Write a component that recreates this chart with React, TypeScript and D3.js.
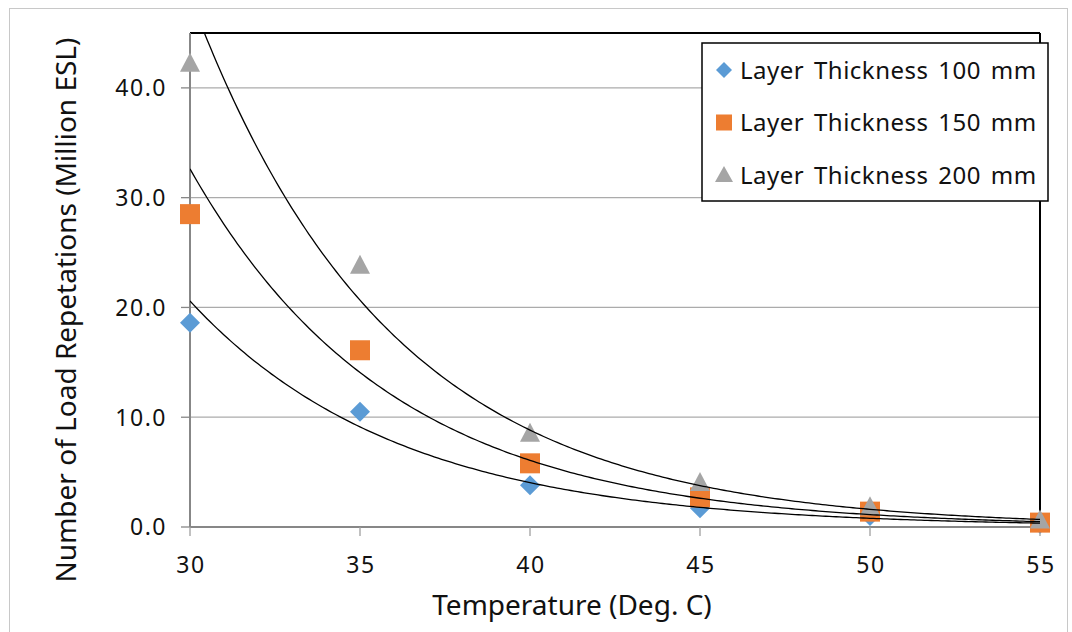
import React from "react";
import * as d3 from "d3";

const temperatures = [30, 35, 40, 45, 50, 55];
const thick100 = [18.6, 10.5, 3.8, 1.7, 1.0, 0.3];
const thick150 = [28.5, 16.1, 5.8, 2.7, 1.4, 0.4];
const thick200 = [42.2, 23.8, 8.5, 4.0, 1.8, 0.6];
const seriesNames = ["Layer Thickness 100 mm", "Layer Thickness 150 mm", "Layer Thickness 200 mm"];
const seriesColors = ["#5B9BD5", "#ED7D31", "#A5A5A5"];
const xTicks = [30, 35, 40, 45, 50, 55];
const yTicks = [0, 10, 20, 30, 40];

const W = 1072, H = 632;
const L = 190, R = 1040, T = 33, B = 527;
const FONT = "'Noto Sans', 'Open Sans', sans-serif";

function expFit(xs: number[], ys: number[]) {
  const n = xs.length;
  const lx = d3.mean(xs)!;
  const ly = d3.mean(ys.map(Math.log))!;
  let sxy = 0, sxx = 0;
  for (let i = 0; i < n; i++) {
    sxy += (xs[i] - lx) * (Math.log(ys[i]) - ly);
    sxx += (xs[i] - lx) ** 2;
  }
  const b = sxy / sxx;
  const a = Math.exp(ly - b * lx);
  return (x: number) => a * Math.exp(b * x);
}

function Marker({ kind, x, y, color }: { kind: number; x: number; y: number; color: string }) {
  if (kind === 0) {
    const s = 10;
    return <path d={`M${x},${y - s}L${x + s},${y}L${x},${y + s}L${x - s},${y}Z`} fill={color} />;
  }
  if (kind === 1) {
    return <rect x={x - 10} y={y - 10} width={20} height={20} fill={color} />;
  }
  return <path d={`M${x},${y - 11}L${x + 10},${y + 8}L${x - 10},${y + 8}Z`} fill={color} />;
}

function LegendMarker({ kind, x, y, color }: { kind: number; x: number; y: number; color: string }) {
  if (kind === 0) {
    const s = 8;
    return <path d={`M${x},${y - s}L${x + s},${y}L${x},${y + s}L${x - s},${y}Z`} fill={color} />;
  }
  if (kind === 1) return <rect x={x - 8} y={y - 8} width={16} height={16} fill={color} />;
  return <path d={`M${x},${y - 9}L${x + 9},${y + 7}L${x - 9},${y + 7}Z`} fill={color} />;
}

export default function App() {
  const x = d3.scaleLinear().domain([30, 55]).range([L, R]);
  const y = d3.scaleLinear().domain([0, 45]).range([B, T]);
  const series = [thick100, thick150, thick200];
  const fits = series.map((s) => expFit(temperatures, s));
  const xs = d3.range(30, 55.001, 0.1);

  return (
    <svg width={W} height={H} style={{ position: "absolute", left: 0, top: 0 }} fontFamily={FONT}>
      <rect x={0} y={0} width={W} height={H} fill="#fff" />
      <rect x={9.5} y={8.5} width={1058} height={640} fill="none" stroke="#c8c8c8" strokeWidth={1} />
      <defs>
        <clipPath id="plotclip">
          <rect x={L} y={T} width={R - L} height={B - T} />
        </clipPath>
      </defs>
      {yTicks.filter((t) => t > 0).map((t) => (
        <line key={t} x1={L} x2={R} y1={y(t)} y2={y(t)} stroke="#ababab" strokeWidth={1.3} />
      ))}
      <line x1={L} x2={R} y1={T} y2={T} stroke="#000" strokeWidth={2} />
      <line x1={R} x2={R} y1={T} y2={B} stroke="#000" strokeWidth={2} />
      <line x1={L} x2={L} y1={T} y2={B} stroke="#878787" strokeWidth={2} />
      <line x1={L} x2={R} y1={B} y2={B} stroke="#878787" strokeWidth={2} />
      {yTicks.map((t) => (
        <g key={t}>
          <line x1={L - 9} x2={L} y1={y(t)} y2={y(t)} stroke="#878787" strokeWidth={1.3} />
          <text x={167} y={y(t)} dy="0.36em" textAnchor="end" fontSize={23} letterSpacing={1.5} fill="#111">
            {t.toFixed(1)}
          </text>
        </g>
      ))}
      {xTicks.map((t) => (
        <g key={t}>
          <line x1={x(t)} x2={x(t)} y1={B} y2={B + 9} stroke="#a0a0a0" strokeWidth={1.3} />
          <text x={x(t) + 1} y={573} textAnchor="middle" fontSize={23} letterSpacing={1.5} fill="#111">
            {t}
          </text>
        </g>
      ))}
      {series.map((s, si) =>
        s.map((v, i) => (
          <Marker key={`${si}-${i}`} kind={si} x={x(temperatures[i])} y={y(v)} color={seriesColors[si]} />
        ))
      )}
      <g clipPath="url(#plotclip)">
        {fits.map((f, i) => (
          <path
            key={i}
            d={d3.line<number>().x((d) => x(d)).y((d) => y(f(d)))(xs)!}
            fill="none"
            stroke="#000"
            strokeWidth={1.3}
          />
        ))}
      </g>
      <rect x={702} y={43} width={346} height={158} fill="#fff" stroke="#000" strokeWidth={1.5} />
      {seriesNames.map((n, i) => (
        <g key={n}>
          <LegendMarker kind={i} x={724} y={70 + i * 52.5} color={seriesColors[i]} />
          <text x={740} y={70 + i * 52.5} dy="0.36em" fontSize={24} letterSpacing={0.5} wordSpacing={3} fill="#111">
            {n}
          </text>
        </g>
      ))}
      <text x={572} y={615} textAnchor="middle" fontSize={28} fill="#111">
        Temperature (Deg. C)
      </text>
      <text transform={`translate(76,310) rotate(-90)`} textAnchor="middle" fontSize={28} fill="#111">
        Number of Load Repetations (Million ESL)
      </text>
    </svg>
  );
}
